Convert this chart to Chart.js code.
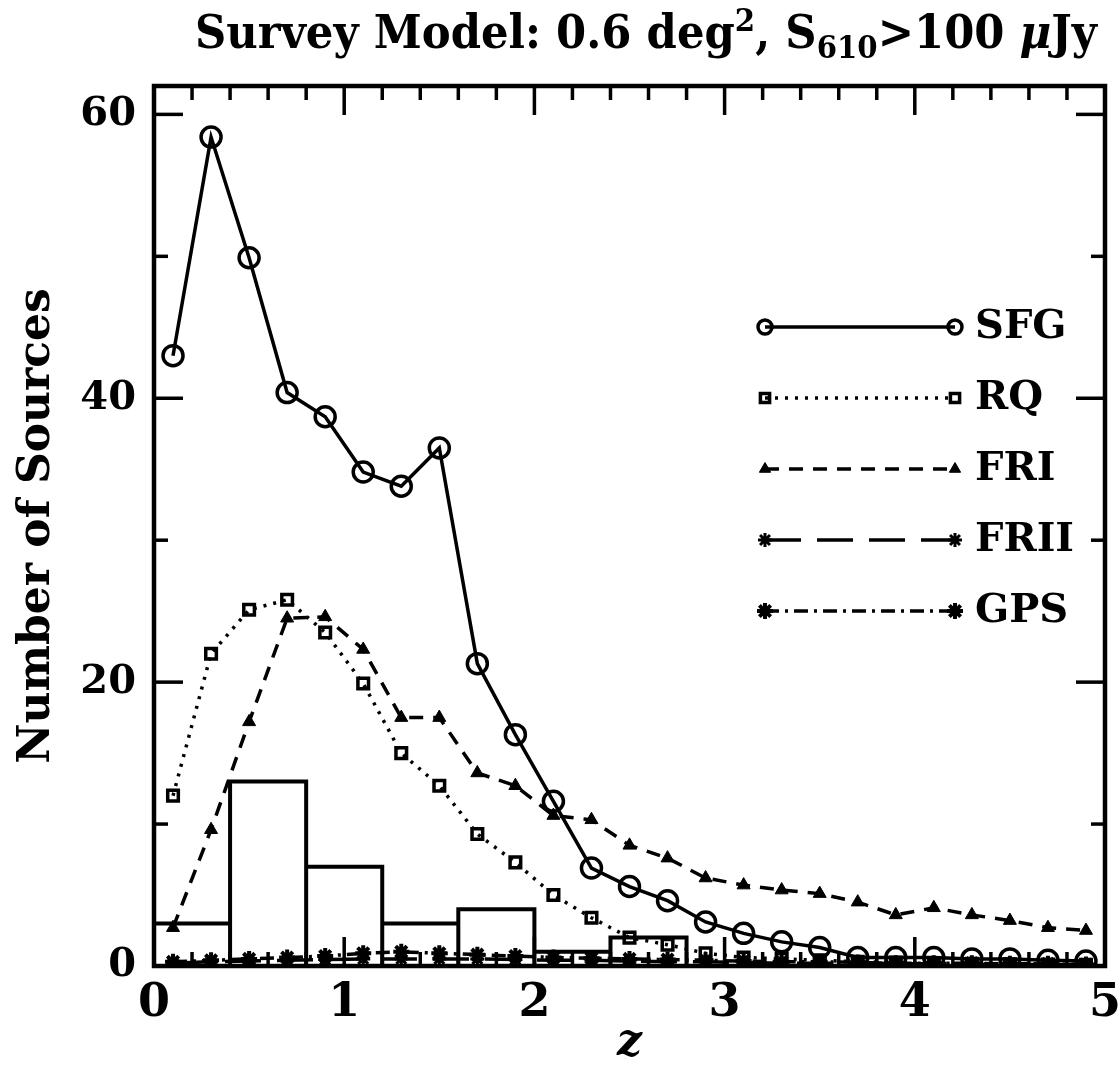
<!DOCTYPE html>
<html><head><meta charset="utf-8">
<script src="https://cdn.jsdelivr.net/npm/chart.js@4.4.0/dist/chart.umd.min.js"></script>
<style>html,body{margin:0;padding:0;background:#fff}</style>
</head><body>
<canvas id="c" width="1119" height="1070"></canvas>
<script>
// ---- data ----
const zMid   = [0.1,0.3,0.5,0.7,0.9,1.1,1.3,1.5,1.7,1.9,2.1,2.3,2.5,2.7,2.9,3.1,3.3,3.5,3.7,3.9,4.1,4.3,4.5,4.7,4.9];
const sfg    = [43.0,58.4,49.9,40.4,38.7,34.8,33.8,36.5,21.3,16.3,11.6,6.9,5.6,4.6,3.1,2.3,1.7,1.3,0.6,0.6,0.6,0.5,0.5,0.4,0.35];
const rq     = [12.0,22.0,25.1,25.8,23.5,19.9,15.0,12.7,9.3,7.3,5.0,3.4,2.0,1.5,0.9,0.6,0.5,0.4,0.3,0.25,0.2,0.15,0.12,0.1,0.08];
const fri    = [2.7,9.6,17.2,24.5,24.6,22.3,17.5,17.5,13.6,12.7,10.6,10.3,8.5,7.6,6.2,5.7,5.35,5.1,4.5,3.6,4.1,3.6,3.2,2.7,2.5];
const frii   = [0.2,0.3,0.35,0.4,0.45,0.5,0.5,0.5,0.5,0.45,0.4,0.4,0.35,0.3,0.3,0.25,0.2,0.2,0.2,0.15,0.15,0.1,0.1,0.1,0.1];
const gps    = [0.3,0.4,0.5,0.6,0.7,0.9,1.0,0.9,0.8,0.7,0.6,0.55,0.5,0.45,0.4,0.35,0.3,0.3,0.25,0.2,0.2,0.2,0.15,0.15,0.1];
const histEdges  = [0,0.4,0.8,1.2,1.6,2.0,2.4,2.8];
const histCounts = [3,13,7,3,4,1,2];
const xTickLabels = [0,1,2,3,4,5];
const yTickLabels = [0,20,40,60];
const seriesNames = ['SFG','RQ','FRI','FRII','GPS'];

const pts = arr => arr.map((v,i)=>({x:zMid[i], y:v}));
const histPts = [];
histCounts.forEach((h,i)=>{
  histPts.push({x:histEdges[i],y:0},{x:histEdges[i],y:h},{x:histEdges[i+1],y:h},{x:histEdges[i+1],y:0});
});

const SERIF = "'DejaVu Serif', 'Liberation Serif', serif";
const T = 'rgba(0,0,0,0)';

const datasets = [
  {label:'hist', data:histPts, borderColor:'#000', borderWidth:4, pointRadius:0, fill:false, tension:0, noLegend:true},
  {label:seriesNames[0], data:pts(sfg), borderColor:'#000', borderWidth:3.5, pointStyle:'circle', pointRadius:10, pointBorderWidth:3.5, pointBackgroundColor:T, pointBorderColor:'#000', fill:false, tension:0, legR:7},
  {label:seriesNames[1], data:pts(rq), borderColor:'#000', borderWidth:3.5, borderDash:[3,7], pointStyle:'rect', pointRadius:7.5, pointBorderWidth:3.5, pointBackgroundColor:T, pointBorderColor:'#000', fill:false, tension:0, legR:6.5},
  {label:seriesNames[2], data:pts(fri), borderColor:'#000', borderWidth:3.5, borderDash:[14,10], pointStyle:'triangle', pointRadius:7.5, pointBorderWidth:1, pointBackgroundColor:'#000', pointBorderColor:'#000', fill:false, tension:0, legR:6.5},
  {label:seriesNames[3], data:pts(frii), borderColor:'#000', borderWidth:3.5, borderDash:[36,16], pointStyle:'star', pointRadius:7, pointBorderWidth:3, pointBackgroundColor:'#000', pointBorderColor:'#000', fill:false, tension:0, legR:7},
  {label:seriesNames[4], data:pts(gps), borderColor:'#000', borderWidth:3.5, borderDash:[14,6,3,6], pointStyle:'star', pointRadius:8, pointBorderWidth:4, pointBackgroundColor:'#000', pointBorderColor:'#000', fill:false, tension:0, legR:8},
];

const framePlugin = {
  id:'frame',
  afterDatasetsDraw(chart){
    const {ctx, chartArea:a, scales:{x,y}} = chart;
    ctx.save();
    ctx.strokeStyle='#000'; ctx.lineCap='butt';
    const line=(x1,y1,x2,y2)=>{ctx.beginPath();ctx.moveTo(x1,y1);ctx.lineTo(x2,y2);ctx.stroke();};
    ctx.lineWidth=3.5;
    for(let i=0;i<=25;i++){
      const px=x.getPixelForValue(i*0.2); const L=(i%5===0)?29:14;
      line(px,a.bottom,px,a.bottom-L); line(px,a.top,px,a.top+L);
    }
    for(let i=0;i<=6;i++){
      const py=y.getPixelForValue(i*10); const L=(i%2===0)?29:14;
      line(a.left,py,a.left+L,py); line(a.right,py,a.right-L,py);
    }
    ctx.lineWidth=4.5;
    ctx.strokeRect(a.left,a.top,a.right-a.left,a.bottom-a.top);
    ctx.restore();
  }
};

const legendPlugin = {
  id:'customLegend',
  afterDatasetsDraw(chart){
    const ctx=chart.ctx;
    const x1=765, x2=955, y0=327, dy=71;
    ctx.save();
    chart.data.datasets.filter(d=>!d.noLegend).forEach((d,i)=>{
      const yy=y0+i*dy;
      ctx.strokeStyle='#000'; ctx.lineWidth=d.borderWidth; ctx.setLineDash(d.borderDash||[]);
      ctx.beginPath(); ctx.moveTo(x1,yy); ctx.lineTo(x2,yy); ctx.stroke();
      ctx.setLineDash([]);
      [x1,x2].forEach(px=>{
        ctx.fillStyle=d.pointBackgroundColor; ctx.strokeStyle='#000'; ctx.lineWidth=d.pointBorderWidth;
        Chart.helpers.drawPoint(ctx,{pointStyle:d.pointStyle,radius:d.legR,rotation:0,borderWidth:d.pointBorderWidth},px,yy);
      });
      ctx.fillStyle='#000'; ctx.font='bold 40px '+SERIF; ctx.textBaseline='middle'; ctx.textAlign='left';
      ctx.fillText(d.label,975,yy+1);
    });
    ctx.restore();
  }
};

const titlePlugin = {
  id:'titleText',
  afterDraw(chart){
    const ctx=chart.ctx;
    const base=46, small=31;
    const segs=[
      {t:'Survey Model: 0.6 deg', s:base, dy:0},
      {t:'2', s:small, dy:-17},
      {t:', S', s:base, dy:0},
      {t:'610', s:small, dy:10},
      {t:'>100 ', s:base, dy:0},
      {t:'μ', s:base, dy:0, it:true},
      {t:'Jy', s:base, dy:0},
    ];
    ctx.save();
    let w=0;
    const f=g=>(g.it?'italic ':'')+'bold '+g.s+'px '+SERIF;
    segs.forEach(g=>{ctx.font=f(g); g.w=ctx.measureText(g.t).width; w+=g.w;});
    const target=902, sc=target/w;
    let x=646-target/2; const yb=48;
    ctx.fillStyle='#000'; ctx.textBaseline='alphabetic'; ctx.textAlign='left';
    segs.forEach(g=>{
      ctx.font=f(g);
      ctx.save(); ctx.translate(x,yb+g.dy); ctx.scale(sc,1); ctx.fillText(g.t,0,0); ctx.restore();
      x+=g.w*sc;
    });
    ctx.restore();
  }
};

new Chart(document.getElementById('c'),{
  type:'line',
  data:{datasets},
  options:{
    responsive:false, animation:false, devicePixelRatio:1,
    layout:{padding:{top:86,right:14,bottom:0,left:0}},
    plugins:{legend:{display:false}, title:{display:false}, tooltip:{enabled:false}},
    scales:{
      x:{type:'linear', min:0, max:5,
         afterBuildTicks:s=>{s.ticks=xTickLabels.map(v=>({value:v}));},
         afterFit:s=>{s.height=104; s.paddingLeft=0; s.paddingRight=0;},
         grid:{display:false, drawTicks:false}, border:{display:false},
         ticks:{color:'#000', font:{family:SERIF,size:46,weight:'bold'}, padding:10, maxRotation:0, autoSkip:false},
         title:{display:true, text:'z', color:'#000', font:{family:SERIF,size:44,style:'italic',weight:'bold'}, padding:{top:0,bottom:0}}
      },
      y:{type:'linear', min:0, max:62,
         afterBuildTicks:s=>{s.ticks=yTickLabels.map(v=>({value:v}));},
         afterFit:s=>{s.width=154; s.paddingTop=0; s.paddingBottom=0;},
         grid:{display:false, drawTicks:false}, border:{display:false},
         ticks:{color:'#000', font:{family:SERIF,size:40,weight:'bold'}, padding:18, autoSkip:false},
         title:{display:true, text:'Number of Sources', color:'#000', font:{family:SERIF,size:44,weight:'bold'}, padding:{top:11,bottom:0}}
      }
    }
  },
  plugins:[framePlugin, legendPlugin, titlePlugin]
});
</script>
</body></html>
